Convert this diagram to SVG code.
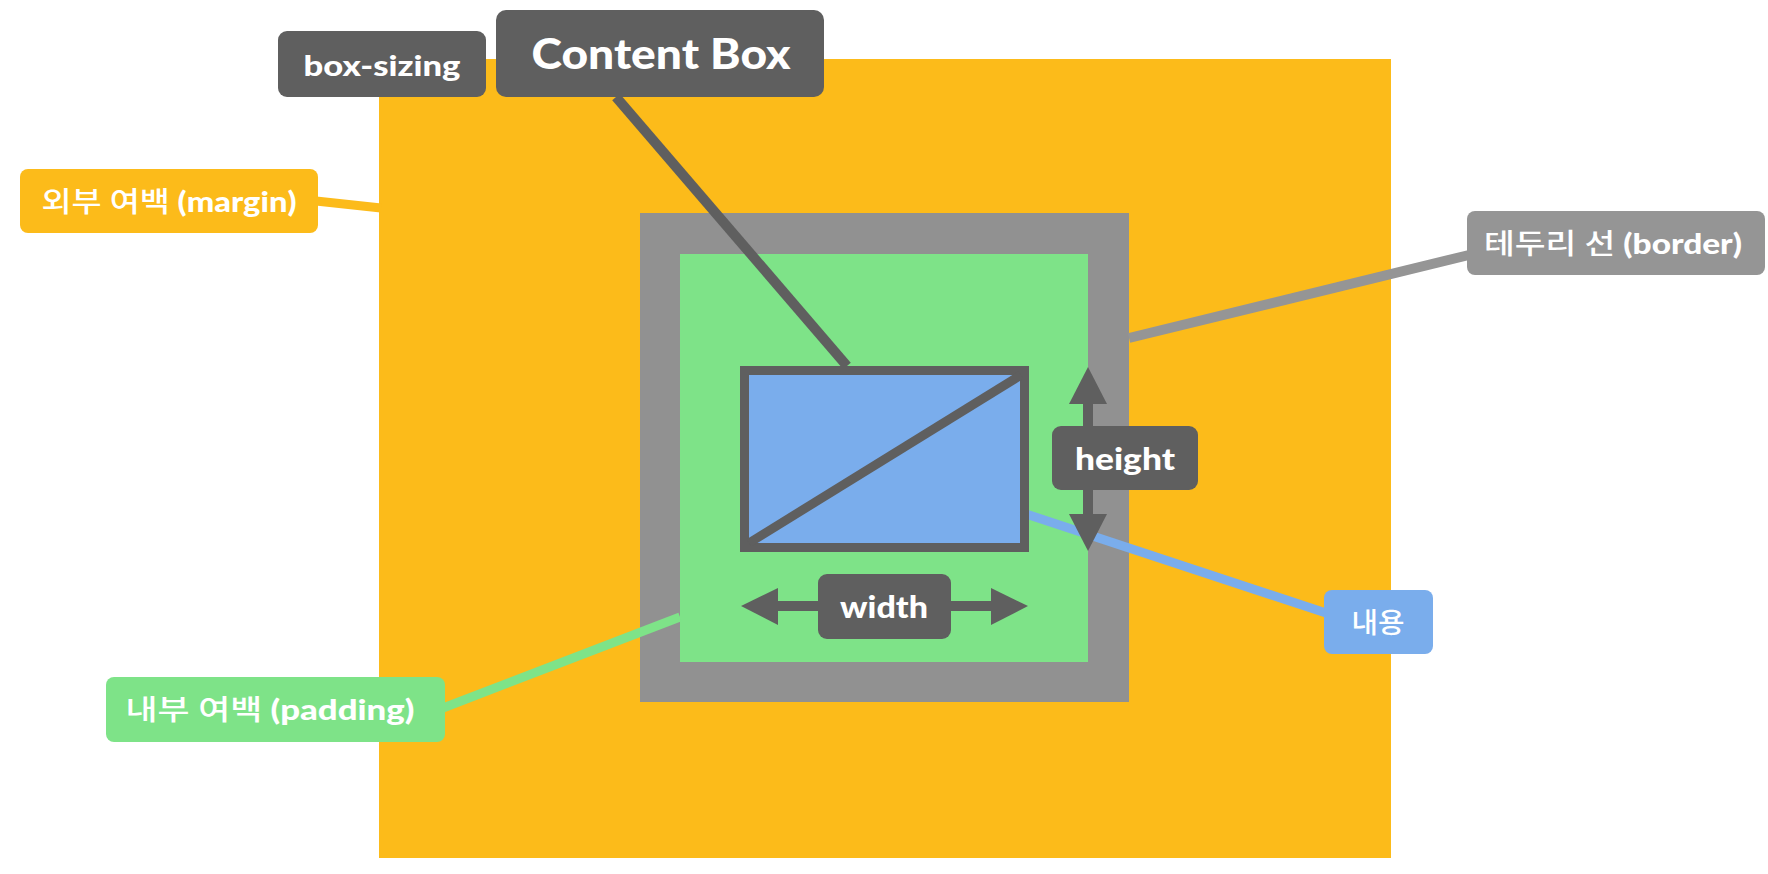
<svg xmlns="http://www.w3.org/2000/svg" width="1768" height="874" viewBox="0 0 1768 874">
<style>
.t{font-family:'Lato','Noto Sans CJK KR','Noto Sans',sans-serif;font-weight:900;fill:#ffffff;text-anchor:middle;dominant-baseline:central}
.ko{font-weight:500}
.dark{fill:#5f5f5f}
.ln{fill:none;stroke-linecap:butt}
</style>
<rect width="1768" height="874" fill="#ffffff"/>
<g id="margin-area"><rect x="379" y="59" width="1012" height="799" fill="#fcbb1a"/></g>
<g id="border-area"><rect x="640" y="213" width="489" height="489" fill="#919191"/></g>
<g id="padding-area"><rect x="680" y="254" width="408" height="408" fill="#7ee388"/></g>
<g id="content-fill"><rect x="744.5" y="370.5" width="280" height="177" fill="#7aadec"/></g>
<g id="connectors">
<line class="ln" x1="616" y1="97" x2="847" y2="366" stroke="#5f5f5f" stroke-width="10"/>
<line class="ln" x1="1020" y1="512" x2="1326" y2="613" stroke="#7aadec" stroke-width="9"/>
<line class="ln" x1="443" y1="708" x2="680" y2="617" stroke="#7ee388" stroke-width="9"/>
<line class="ln" x1="1129" y1="338" x2="1469" y2="255" stroke="#959595" stroke-width="10"/>
<line class="ln" x1="316" y1="201" x2="381" y2="208" stroke="#fcbb1a" stroke-width="9"/>
</g>
<g id="content-box">
<rect x="744.5" y="370.5" width="280" height="177" fill="none" stroke="#5f5f5f" stroke-width="9"/>
<line x1="749" y1="543" x2="1021" y2="375" stroke="#5f5f5f" stroke-width="9"/>
</g>
<g id="height-arrow">
<line x1="1088" y1="400" x2="1088" y2="518" stroke="#5f5f5f" stroke-width="10"/>
<polygon points="1088,367 1107,404 1069,404" class="dark"/>
<polygon points="1088,551 1107,514 1069,514" class="dark"/>
</g>
<g id="width-arrow">
<line x1="774" y1="606" x2="995" y2="606" stroke="#5f5f5f" stroke-width="10"/>
<polygon points="741,606 778,588 778,625" class="dark"/>
<polygon points="1028,606 991,588 991,625" class="dark"/>
</g>
<g id="label-box-sizing">
<rect x="278" y="31" width="208" height="66" rx="9" class="dark"/>
<text class="t" x="382" y="64" font-size="29" textLength="157" lengthAdjust="spacingAndGlyphs">box-sizing</text>
</g>
<g id="label-content-box">
<rect x="496" y="10" width="328" height="87" rx="10" class="dark"/>
<text class="t" x="661" y="53" font-size="42" textLength="259" lengthAdjust="spacingAndGlyphs">Content Box</text>
</g>
<g id="label-margin">
<rect x="20" y="169" width="298" height="64" rx="8" fill="#fcbb1a"/>
<text class="t" x="169" y="201" font-size="28" textLength="255" lengthAdjust="spacingAndGlyphs"><tspan class="ko">외부 여백</tspan> (margin)</text>
</g>
<g id="label-border">
<rect x="1467" y="211" width="298" height="64" rx="8" fill="#959595"/>
<text class="t" x="1613" y="243" font-size="28" textLength="258" lengthAdjust="spacingAndGlyphs"><tspan class="ko">테두리 선</tspan> (border)</text>
</g>
<g id="label-padding">
<rect x="106" y="677" width="339" height="65" rx="8" fill="#7ee388"/>
<text class="t" x="270" y="709" font-size="28" textLength="289" lengthAdjust="spacingAndGlyphs"><tspan class="ko">내부 여백</tspan> (padding)</text>
</g>
<g id="label-content">
<rect x="1324" y="590" width="109" height="64" rx="8" fill="#7aadec"/>
<text class="t ko" x="1378" y="622" font-size="28" textLength="53" lengthAdjust="spacingAndGlyphs">내용</text>
</g>
<g id="label-height">
<rect x="1052" y="426" width="146" height="64" rx="9" class="dark"/>
<text class="t" x="1125" y="458" font-size="30" textLength="100" lengthAdjust="spacingAndGlyphs">height</text>
</g>
<g id="label-width">
<rect x="818" y="574" width="133" height="65" rx="9" class="dark"/>
<text class="t" x="884" y="606" font-size="30" textLength="88" lengthAdjust="spacingAndGlyphs">width</text>
</g>
</svg>
